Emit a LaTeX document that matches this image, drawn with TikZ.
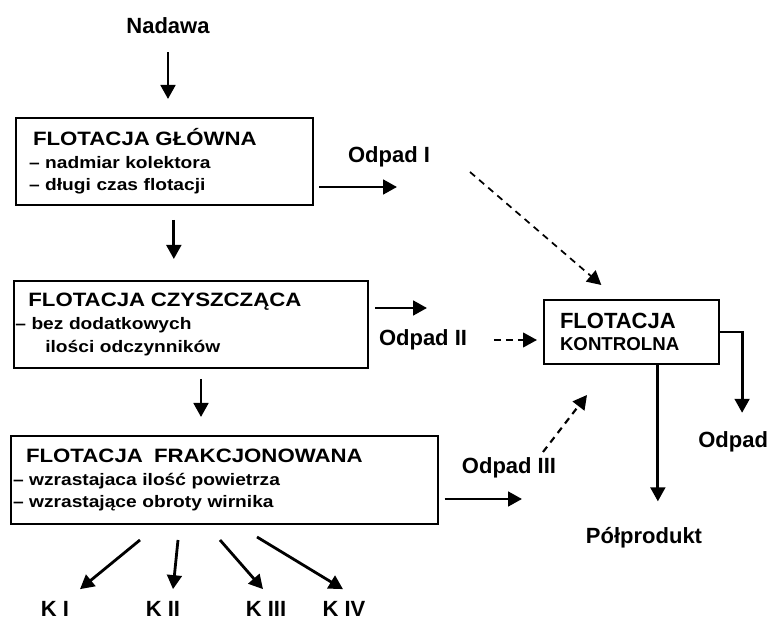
\documentclass[tikz,border=0pt]{standalone}
\usepackage{fontspec}
\setmainfont{Liberation Sans}
\newfontfamily\widefont[FakeStretch=1.15]{Liberation Sans}
\usetikzlibrary{arrows.meta}

\begin{document}
\begin{tikzpicture}[x=0.75pt, y=-0.75pt,
    stage/.style={draw, line width=1.5pt, anchor=north west, align=left, inner ysep=0pt,
      font=\widefont\bfseries\fontsize{12.5}{17}\selectfont},
    tag/.style={inner sep=0pt, font=\bfseries\fontsize{16.5}{20}\selectfont},
    flow/.style={line width=2.1pt, -{Triangle[length=10.5pt, width=11pt]}},
    dflow/.style={flow, line width=1.6pt, dash pattern=on 5pt off 4pt}]
    \useasboundingbox (0,0) rectangle (769,623);

    % Feed
    \node[tag] (nadawa) at (168,26) {Nadawa};

    % Main flotation
    \node[stage, inner xsep=9.75pt, text width=203.25pt, minimum height=65.25pt] (glowna) at (15,117)
        {\hspace*{3pt}{\fontsize{14.5}{17}\selectfont FLOTACJA GŁÓWNA}\\
         – nadmiar kolektora\\
         – długi czas flotacji};

    % Cleaning
    \node[stage, inner xsep=1pt, text width=263.5pt, minimum height=65.25pt] (czyszczaca) at (13,280)
        {\hspace*{9.75pt}{\fontsize{14.5}{17}\selectfont FLOTACJA CZYSZCZĄCA}\\
         – bez dodatkowych\\
         \hspace*{22.5pt}ilości odczynników};

    % Fractional
    \node[stage, inner xsep=1.5pt, text width=317pt, minimum height=66pt] (frakcja) at (10,435)
        {\hspace*{9.75pt}{\fontsize{14.5}{17}\selectfont FLOTACJA\ \ FRAKCJONOWANA}\\
         – wzrastajaca ilość powietrza\\
         – wzrastające obroty wirnika};

    % Scavenger
    \node[stage, inner xsep=12pt, text width=107pt, minimum height=48pt,
          font=\bfseries\fontsize{14}{16.5}\selectfont] (kontrolna) at (543,299)
        {{\fontsize{16.5}{16.5}\selectfont FLOTACJA}\\ KONTROLNA};

    % Products
    \node[tag] (odpad1) at (389,157) {Odpad I};
    \node[tag] (odpad2) at (423,340) {Odpad II};
    \node[tag] (odpad3) at (509,468) {Odpad III};
    \node[tag, anchor=west] (odpad) at (698,442) {Odpad};
    \node[tag] (polprodukt) at (644,538) {Półprodukt};
    \node[tag] (k1) at (55,609) {K I};
    \node[tag] (k2) at (163,609) {K II};
    \node[tag] (k3) at (266,609) {K III};
    \node[tag] (k4) at (344,609) {K IV};

    \coordinate (o1-end) at (397,187);
    \coordinate (o2-end) at (427,308);
    \coordinate (o3-end) at (522,499);

    % Main line
    \draw[flow, shorten <=13.5pt, shorten >=13.5pt] (nadawa.south) -- (nadawa.south |- glowna.north);
    \draw[flow, shorten <=10.5pt, shorten >=15.75pt] ([xshift=7pt]glowna.south) -- ([xshift=7pt]glowna.south |- czyszczaca.north);
    \draw[flow, shorten <=7.5pt, shorten >=13.5pt] ([xshift=7.5pt]czyszczaca.south) -- ([xshift=7.5pt]czyszczaca.south |- frakcja.north);

    % Tailings
    \draw[flow, shorten <=3.75pt] (glowna.east |- o1-end) -- (o1-end);
    \draw[flow, shorten <=4.5pt] (czyszczaca.east |- o2-end) -- (o2-end);
    \draw[flow, shorten <=4.5pt] (frakcja.east |- o3-end) -- (o3-end);

    % Back to scavenger
    \draw[dflow, line width=1.3pt] ([shift={(81,15)}]odpad1.center) -- ([shift={(-30,-14)}]kontrolna.north);
    \draw[dflow, shorten <=20pt, shorten >=4.5pt] (odpad2.east) -- (odpad2.east -| kontrolna.west);
    \draw[dflow] ([shift={(34,-16)}]odpad3.center) -- ([shift={(44,30)}]kontrolna.south west);

    % Scavenger outputs
    \draw[flow, shorten >=14pt] (kontrolna.east) -| ([xshift=6.75pt]odpad.north);
    \draw[flow, shorten >=19.5pt] ([xshift=19.9pt]kontrolna.south) -- ([xshift=19.9pt]kontrolna.south |- polprodukt.north);

    % Concentrates
    \foreach \k/\sx/\sy/\ex in {k1/130/15/25, k2/168/15/10, k3/210/15/-3, k4/247/12/-1}
        \draw[flow] ([shift={(\sx,\sy)}]frakcja.south west) -- ([shift={(\ex,-12)}]\k.north);

\end{tikzpicture}
\end{document}
